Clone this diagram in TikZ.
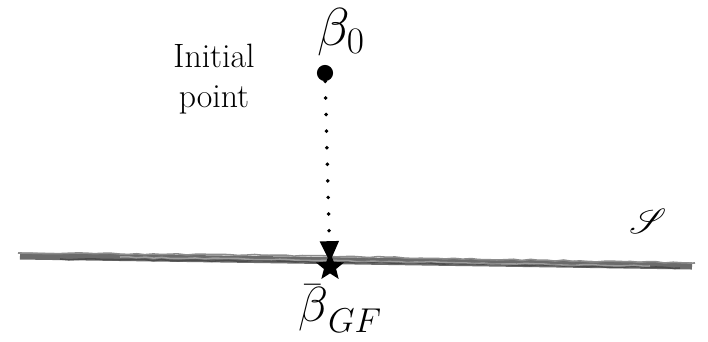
\RequirePackage{fix-cm}
\documentclass[tikz,border=0pt]{standalone}
\usepackage{amsmath,amssymb,mathrsfs}
\usepackage{tikz}
\usetikzlibrary{arrows.meta,shapes.geometric,decorations.pathmorphing}

\tikzset{
  dotnode/.style={circle,fill=black,inner sep=0pt,minimum size=11.5pt},
  goalstar/.style={star,star points=5,star point ratio=2.3,fill=black,inner sep=0pt,minimum size=21pt},
  flowpath/.style={line width=2.8pt,line cap=round,dash pattern=on 0pt off 11.8pt,
    -{Triangle[width=13pt,length=15pt]},shorten >=-7pt},
  brush/.style={line width=5pt,black!58},
  streak/.style={line width=1.1pt,decorate,decoration={random steps,segment length=6pt,amplitude=0.5pt}},
  bigmath/.style={font=\fontsize{38}{42}\selectfont},
  labeltext/.style={align=center,font=\fontsize{24}{28}\selectfont}
}

\begin{document}
\begin{tikzpicture}[x=0.025cm,y=-0.025cm]
  \useasboundingbox (0,0) rectangle (708,341);
  \pgfmathsetseed{11}
  % Mangfoldigheden (penselstreg)
  \draw[brush] (20,256) -- (692,266);
  \draw[streak,black!45] (18,253) -- (260,255) -- (695,263);
  \draw[streak,black!70] (60,259) -- (420,263) -- (680,268);
  \draw[streak,white,opacity=0.35] (120,257) -- (650,266);
  % Punkter og tekst
  \node[dotnode] (start) at (325,73) {};
  \node[goalstar] (gf) at (330,267) {};
  \node[bigmath] (beta0) at (341,32) {$\beta_0$};
  \node[labeltext] (init) at (214,79) {Initial\\point};
  \node[bigmath,font=\fontsize{35}{40}\selectfont,anchor=base] (betagf) at (340,321)
    {$\bar{\smash[t]{\beta}\rule{0pt}{0.6em}}_{GF}$};
  \node[font=\fontsize{30}{34}\selectfont] (manif) at (648,221) {$\mathscr{S}$};
  % Gradientflow
  \draw[flowpath] (start) -- (gf);
\end{tikzpicture}
\end{document}
